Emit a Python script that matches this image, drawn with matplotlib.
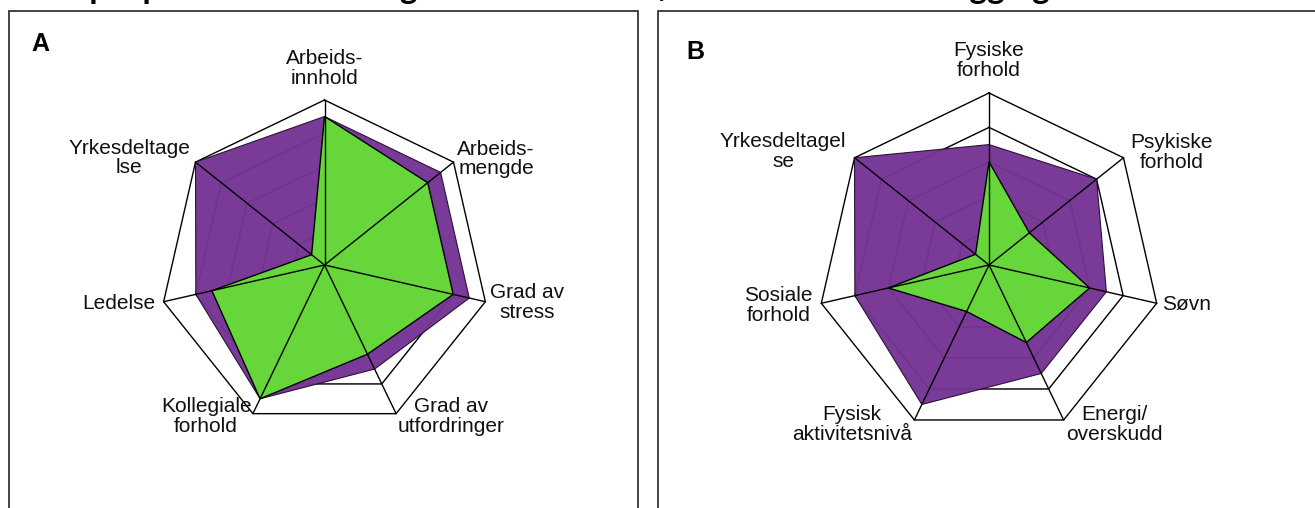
import matplotlib.pyplot as plt
import numpy as np
from matplotlib.patches import Rectangle

plt.rcParams['font.family'] = ['Liberation Sans', 'DejaVu Sans']

# data (0-10 scale)
labels_a = ['Arbeids-\ninnhold', 'Arbeids-\nmengde', 'Grad av\nstress', 'Grad av\nutfordringer',
            'Kollegiale\nforhold', 'Ledelse', 'Yrkesdeltage\nlse']
purple_a = [9, 9, 9, 7, 9, 8, 10]
green_a = [9, 8, 8, 6, 9, 7, 1]

labels_b = ['Fysiske\nforhold', 'Psykiske\nforhold', 'Søvn', 'Energi/\noverskudd',
            'Fysisk\naktivitetsnivå', 'Sosiale\nforhold', 'Yrkesdeltagel\nse']
purple_b = [7, 8, 7, 7, 9, 8, 10]
green_b = [6, 3, 6, 5, 3, 6, 1]

rings = [2, 4, 6, 8, 10]
title = 'Eksempel på vurdert endring i arbeidsforhold/helse etter tilrettelegging'

# label placement (radius, horizontal alignment)
pos_a = [(11.9, 'center'), (10.3, 'left'), (10.3, 'left'), (10.2, 'left'),
         (10.2, 'right'), (10.5, 'right'), (10.4, 'right')]
pos_b = [(11.9, 'center'), (10.5, 'left'), (10.3, 'left'), (10.3, 'left'),
         (10.3, 'right'), (10.5, 'right'), (10.6, 'right')]

PURPLE = '#7A3A98'
GREEN = '#66D63A'
W, H = 1315, 508


def radar(ax, labels, s1, s2, pos):
    n = len(labels)
    theta = np.linspace(0, 2 * np.pi, n, endpoint=False)
    closed = np.append(theta, theta[0])
    ax.set_theta_offset(np.pi / 2)
    ax.set_theta_direction(-1)
    ax.set_ylim(0, 10)
    ax.axis('off')
    for lvl in rings:
        ax.plot(closed, [lvl] * (n + 1), color='black', lw=1.0, zorder=1, clip_on=False)
    ax.fill(closed, s1 + s1[:1], facecolor=PURPLE, edgecolor='#2b1236', lw=0.8, zorder=2, clip_on=False)
    for lvl in rings[:-1]:
        ax.plot(closed, [lvl] * (n + 1), color='black', alpha=0.12, lw=0.8, zorder=2.5, clip_on=False)
    ax.fill(closed, s2 + s2[:1], facecolor=GREEN, edgecolor='black', lw=1.0, zorder=3, clip_on=False)
    for t in theta:
        ax.plot([t, t], [0, 10], color='black', lw=1.0, zorder=4, clip_on=False)
    for t, lab, (r, ha) in zip(theta, labels, pos):
        ax.text(t, r, lab, ha=ha, va='center', multialignment='center',
                fontsize=15, linespacing=1.05, color='#111111')


fig = plt.figure(figsize=(W / 100, H / 100), dpi=100)

# panel frames
fig.patches.append(Rectangle((9 / W, -0.1), (638 - 9) / W, 1.1 - 11 / H + 0.0,
                             transform=fig.transFigure, fill=False, ec='#222222', lw=1.2))
fig.patches.append(Rectangle((658 / W, -0.1), 0.6, 1.1 - 11 / H,
                             transform=fig.transFigure, fill=False, ec='#222222', lw=1.2))

cxa, cya, ra = 324.5, 265, 165
ax_a = fig.add_axes([(cxa - ra) / W, 1 - (cya + ra) / H, 2 * ra / W, 2 * ra / H], projection='polar')
radar(ax_a, labels_a, purple_a, green_a, pos_a)

cxb, cyb, rb = 989, 265, 172
ax_b = fig.add_axes([(cxb - rb) / W, 1 - (cyb + rb) / H, 2 * rb / W, 2 * rb / H], projection='polar')
radar(ax_b, labels_b, purple_b, green_b, pos_b)

fig.text(40 / W, 1 - 44 / H, 'A', fontsize=18, fontweight='bold', ha='center', va='center')
fig.text(695 / W, 1 - 52 / H, 'B', fontsize=18, fontweight='bold', ha='center', va='center')

fig.text(-8 / W, 1 + 1 / H, title, fontsize=24, fontweight='bold', ha='left', va='baseline',
         family=['Lato', 'DejaVu Sans'])

fig.savefig('out.png', dpi=100)
